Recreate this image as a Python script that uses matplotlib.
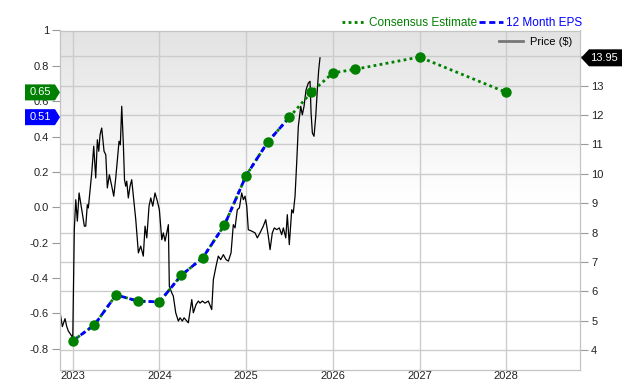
import numpy as np
import matplotlib.pyplot as plt
from matplotlib.patches import Polygon
from matplotlib.lines import Line2D

plt.rcParams['font.family'] = ['Liberation Sans', 'DejaVu Sans']
plt.rcParams['font.size'] = 8

# 12 month EPS (history) and consensus estimates
eps_years = [2023.0, 2023.25, 2023.5, 2023.75, 2024.0, 2024.25, 2024.5, 2024.75, 2025.0, 2025.25, 2025.5]
eps_values = [-0.755, -0.665, -0.495, -0.53, -0.535, -0.385, -0.285, -0.10, 0.18, 0.37, 0.51]
est_years = [2025.75, 2026.0, 2026.25, 2027.0, 2028.0]
est_values = [0.65, 0.76, 0.78, 0.85, 0.65]

# price ($)
price_years = [2022.855, 2022.880, 2022.911, 2022.931, 2022.949, 2022.988, 2023.000, 2023.018, 2023.035, 2023.053,
               2023.073, 2023.104, 2023.134, 2023.150, 2023.168, 2023.180, 2023.200, 2023.219, 2023.242, 2023.265,
               2023.284, 2023.300, 2023.315, 2023.334, 2023.361, 2023.381, 2023.399, 2023.422, 2023.450, 2023.473,
               2023.496, 2023.519, 2023.534, 2023.549, 2023.565, 2023.584, 2023.597, 2023.611, 2023.623, 2023.641,
               2023.661, 2023.680, 2023.699, 2023.727, 2023.757, 2023.784, 2023.814, 2023.834, 2023.854, 2023.880,
               2023.900, 2023.923, 2023.949, 2023.976, 2023.999, 2024.027, 2024.045, 2024.065, 2024.084, 2024.103,
               2024.114, 2024.142, 2024.160, 2024.188, 2024.218, 2024.238, 2024.264, 2024.284, 2024.315, 2024.333,
               2024.373, 2024.391, 2024.422, 2024.449, 2024.468, 2024.495, 2024.526, 2024.564, 2024.603, 2024.622,
               2024.653, 2024.679, 2024.707, 2024.737, 2024.768, 2024.795, 2024.826, 2024.852, 2024.872, 2024.898,
               2024.922, 2024.949, 2024.968, 2024.987, 2025.007, 2025.025, 2025.065, 2025.103, 2025.129, 2025.160,
               2025.198, 2025.226, 2025.256, 2025.276, 2025.302, 2025.325, 2025.353, 2025.383, 2025.410, 2025.429,
               2025.457, 2025.475, 2025.498, 2025.526, 2025.544, 2025.564, 2025.583, 2025.602, 2025.630, 2025.648,
               2025.668, 2025.691, 2025.717, 2025.737, 2025.749, 2025.764, 2025.783, 2025.803, 2025.821, 2025.837,
               2025.852]
prices = [5.27, 4.80, 5.07, 4.80, 4.65, 4.48, 4.36, 8.10, 9.12, 8.39,
          9.35, 8.78, 8.22, 8.22, 8.95, 8.84, 9.46, 10.03, 10.94, 9.86,
          11.16, 10.77, 11.33, 11.56, 10.77, 10.65, 9.52, 9.97, 9.58, 9.24,
          9.86, 10.60, 11.11, 10.99, 12.30, 10.99, 9.80, 9.58, 9.75, 9.18,
          9.58, 9.80, 9.24, 8.44, 7.31, 7.54, 7.20, 8.22, 7.82, 8.90,
          9.18, 8.90, 9.35, 9.07, 8.78, 7.76, 7.99, 7.71, 7.99, 8.27,
          6.18, 5.95, 5.84, 5.27, 4.99, 5.10, 4.99, 5.10, 4.99, 4.93,
          5.72, 5.27, 5.55, 5.67, 5.60, 5.67, 5.60, 5.67, 5.38, 6.40,
          6.86, 7.20, 7.08, 7.25, 7.08, 7.03, 7.31, 8.27, 8.16, 8.78,
          8.84, 9.35, 9.12, 9.24, 8.90, 8.10, 8.05, 7.99, 7.82, 7.99,
          8.22, 8.44, 7.88, 7.42, 7.99, 8.16, 8.10, 8.16, 7.93, 8.16,
          7.82, 8.61, 7.59, 8.78, 8.67, 9.24, 10.37, 11.62, 12.30, 12.01,
          12.30, 12.86, 13.09, 13.15, 12.07, 11.39, 11.28, 11.96, 12.86, 13.54,
          13.95]

year_ticks = [2023, 2024, 2025, 2026, 2027, 2028]
eps_ticks = [-0.8, -0.6, -0.4, -0.2, 0.0, 0.2, 0.4, 0.6, 0.8, 1.0]
eps_labels = ['-0.8', '-0.6', '-0.4', '-0.2', '0.0', '0.2', '0.4', '0.6', '0.8', '1']
price_ticks = [4, 5, 6, 7, 8, 9, 10, 11, 12, 13, 14]
price_labels = ['4', '5', '6', '7', '8', '9', '10', '11', '12', '13', '']  # 14 sits under the price badge

GREEN = '#008000'
BLUE = '#0000ff'
GRID = '#cccccc'

fig = plt.figure(figsize=(6.4, 3.8), dpi=100)
ax = fig.add_axes([60 / 640, 10.5 / 380, 520 / 640, 339 / 380])
ax2 = ax.twinx()

# price axis (right side, drawn underneath)
ax.yaxis.tick_right()
ax2.yaxis.tick_left()
ax.set_xlim(2022.853, 2028.851)
ax.set_ylim(3.34, 14.88)
ax2.set_ylim(-0.917, 1.0)

# background gradient: grey at the top fading to white by the middle
g = np.linspace(1, 0, 200)
shade = 1 - 0.11 * np.clip((g - 0.5) / 0.5, 0, 1)
img = np.repeat(shade[:, None, None], 3, axis=2)
ax.imshow(img, extent=[0, 1, 0, 1], transform=ax.transAxes, aspect='auto', zorder=-5)

ax.set_xticks(year_ticks)
ax.set_xticklabels([str(y) for y in year_ticks])
ax.set_yticks(price_ticks)
ax.set_yticklabels(price_labels)
ax.grid(True, color=GRID, lw=1)
ax.set_axisbelow(True)

ax.plot(price_years, prices, color='black', lw=0.9, zorder=2)

# EPS lines
all_years = eps_years + est_years
all_values = eps_values + est_values
ax2.plot(all_years, all_values, color=GREEN, lw=2, ls=(0, (1, 1.2)), zorder=2)
ax2.plot(eps_years, eps_values, color=BLUE, lw=2, ls=(0, (2.2, 1.3)), zorder=3)
ax2.plot(all_years, all_values, ls='none', marker='o', ms=6.5, color=GREEN, zorder=4)

ax2.set_yticks(eps_ticks)
ax2.set_yticklabels(eps_labels)

for a in (ax, ax2):
    for s in a.spines.values():
        s.set_color('#c4c4c4')
ax.tick_params(axis='x', length=0, pad=1, colors='#222222')
ax.tick_params(axis='y', length=6, pad=2, color='#999999', labelcolor='#222222')
ax2.tick_params(axis='y', length=6, pad=2, color='#999999', labelcolor='#222222')

# legends
h1 = Line2D([], [], color=GREEN, lw=2, ls=(0, (1, 1.2)))
h2 = Line2D([], [], color=BLUE, lw=2, ls=(0, (2.2, 1.3)))
leg = ax2.legend([h1, h2], ['Consensus Estimate', '12 Month EPS'], loc='lower right',
                 bbox_to_anchor=(1.005, 1.005), ncol=2, frameon=False, handlelength=2.0,
                 handletextpad=0.3, columnspacing=0.2, borderpad=0, borderaxespad=0, fontsize=8.5)
for t, c in zip(leg.get_texts(), [GREEN, BLUE]):
    t.set_color(c)
ax2.add_artist(leg)
h3 = Line2D([], [], color='#777777', lw=2)
ax2.legend([h3], ['Price ($)'], loc='center right', bbox_to_anchor=(0.985, 0.967),
           frameon=False, handlelength=2.2, handletextpad=0.6, borderpad=0, borderaxespad=0, fontsize=8)


# value badges
def badge(axis, val, text, color, side):
    y = axis.transData.transform((2025, val))[1]
    if side == 'left':
        pts = [(25, y - 8), (55, y - 8), (60, y), (55, y + 8), (25, y + 8)]
        tx = 40
    else:
        pts = [(581, y), (589, y - 8.5), (622, y - 8.5), (622, y + 8.5), (589, y + 8.5)]
        tx = 604
    pts = [(px / 640, py / 380) for px, py in pts]
    fig.add_artist(Polygon(pts, closed=True, facecolor=color, edgecolor='none',
                           transform=fig.transFigure, zorder=5))
    fig.text(tx / 640, y / 380, text, color='white', ha='center', va='center', fontsize=8, zorder=6)


badge(ax2, est_values[0], '0.65', GREEN, 'left')
badge(ax2, eps_values[-1], '0.51', BLUE, 'left')
badge(ax, prices[-1], '13.95', 'black', 'right')

fig.savefig('out.png', dpi=100)
